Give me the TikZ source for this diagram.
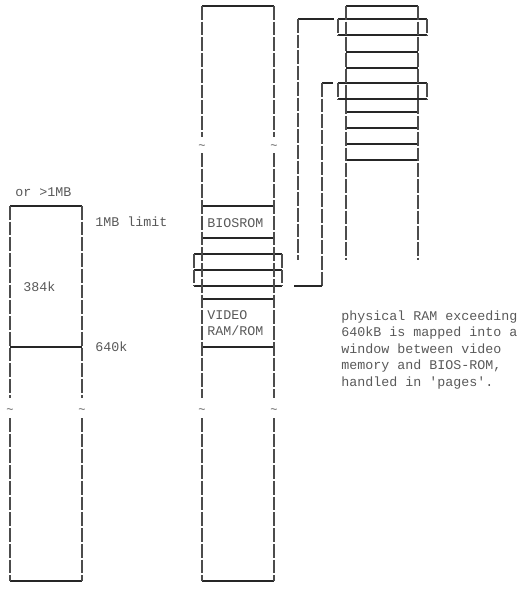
\documentclass[tikz,border=0pt]{standalone}
\usepackage{fontspec}
\newfontfamily\mono{Liberation Mono}
\begin{document}
\begin{tikzpicture}[x=0.75pt,y=-0.75pt,
  hl/.style={draw=black!85, line width=0.8pt},
  vb/.style={draw=black!70, line width=0.9pt, dash pattern=on 10.3pt off 1.5pt},
  lbl/.style={font=\mono\fontsize{10}{12}\selectfont, text=black!65, inner sep=0pt, anchor=base west},
  tld/.style={font=\mono\fontsize{9}{11}\selectfont, text=black!65, inner sep=0pt}]
\useasboundingbox (0,0) rectangle (520,596);

% ---- left column (physical RAM) ----
\draw[hl] (10,206) -- (82,206);
\draw[hl] (10,347) -- (82,347);
\draw[hl] (10,581) -- (82,581);
\foreach \x in {10,82} {
  \draw[vb] (\x,206) -- (\x,398);
  \draw[vb] (\x,418) -- (\x,581);
  \node[tld] (lt\x) at (\x,411) {\textasciitilde};
}
\node[lbl] (ormb) at (15,196) {or >1MB};
\node[lbl] (limit) at (95,226) {1MB limit};
\node[lbl] (k384) at (23,291) {384k};
\node[lbl] (k640) at (95,351) {640k};

% ---- middle column (address space) ----
\foreach \y in {6,206,238,299,347,581} \draw[hl] (202,\y) -- (274,\y);
\foreach \y in {254,270,286} \draw[hl] (194,\y) -- (282,\y);
\foreach \x in {202,274} {
  \draw[vb] (\x,6) -- (\x,137);
  \draw[vb] (\x,153) -- (\x,398);
  \draw[vb] (\x,418) -- (\x,581);
  \node[tld] (mta\x) at (\x,147) {\textasciitilde};
  \node[tld] (mtb\x) at (\x,411) {\textasciitilde};
}
\foreach \x in {194,282} \draw[vb] (\x,254) -- (\x,286);
\node[lbl] (bios) at (207,227) {BIOSROM};
\node[lbl] (video) at (207,319) {VIDEO};
\node[lbl] (ramrom) at (207,335) {RAM/ROM};

% ---- right column (expanded memory pages) ----
\foreach \y in {6,52,68,112,128,144,160} \draw[hl] (346,\y) -- (418,\y);
\foreach \y in {19,35,83,99} \draw[hl] (338,\y) -- (427,\y);
\foreach \x in {346,418} \draw[vb] (\x,6) -- (\x,260);
\foreach \x in {338,427} {
  \draw[vb] (\x,19) -- (\x,35);
  \draw[vb] (\x,83) -- (\x,99);
}

% ---- connectors ----
\coordinate (c1a) at (334,19);
\coordinate (c1b) at (298,19);
\coordinate (c1c) at (298,260);
\draw[hl] (c1a) -- (c1b);
\draw[vb] (c1b) -- (c1c);
\coordinate (c2a) at (333,83);
\coordinate (c2b) at (322,83);
\coordinate (c2c) at (322,286);
\coordinate (c2d) at (294,286);
\draw[hl] (c2a) -- (c2b);
\draw[vb] (c2b) -- (c2c);
\draw[hl] (c2c) -- (c2d);

% ---- explanation ----
\node[lbl] (p1) at (341,320) {physical RAM exceeding};
\node[lbl] (p2) at (341,336.5) {640kB is mapped into a};
\node[lbl] (p3) at (341,353) {window between video};
\node[lbl] (p4) at (341,369.5) {memory and BIOS-ROM,};
\node[lbl] (p5) at (341,386) {handled in 'pages'.};
\end{tikzpicture}
\end{document}
